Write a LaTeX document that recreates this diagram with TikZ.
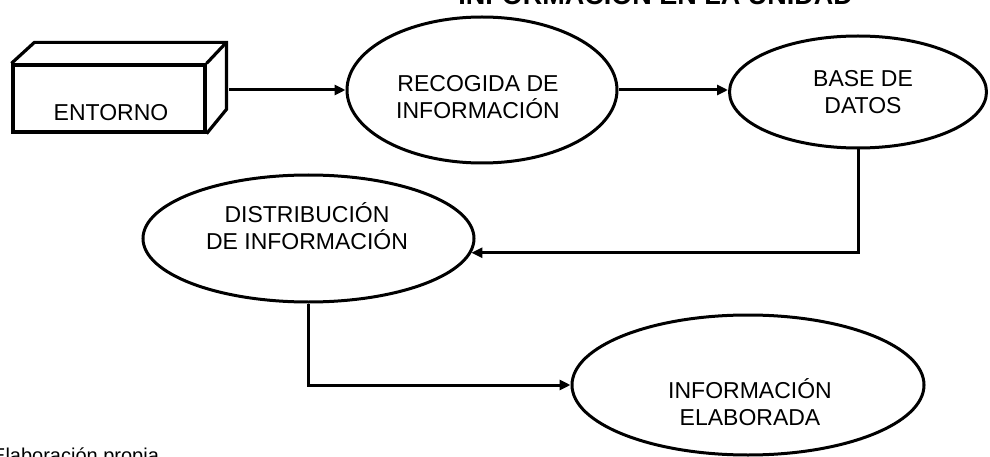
\documentclass[tikz,border=0pt]{standalone}
\usepackage{fontspec}
\setmainfont{Liberation Sans}
\usetikzlibrary{shapes.geometric,arrows.meta,calc}
\begin{document}
\begin{tikzpicture}[x=1pt,y=-1pt,
  proc/.style={draw, ellipse, line width=3pt, inner sep=0pt},
  lbl/.style={align=center, font=\fontsize{23}{27}\selectfont, inner sep=0pt},
  flow/.style={line width=3pt, -{Triangle[length=11pt,width=10pt]}},
  boxface/.style={draw, line width=3.2pt, line join=miter},
]
\useasboundingbox (0,0) rectangle (990,457);

% heading (only its lower edge falls inside the page)
\node[anchor=base east, inner sep=0pt, font=\bfseries\fontsize{27}{30}\selectfont] (title) at (853,5) {INFORMACIÓN EN LA UNIDAD};

% the environment, drawn as a box in perspective
\node[boxface, minimum width=192pt, minimum height=67pt, inner sep=0pt] (entorno) at (109,98.5) {};
\draw[boxface] (entorno.north west) -- ++(23,-21) -- ++(192,0) coordinate (eback) -- ++(0,67) -- (entorno.south east);
\draw[boxface] (entorno.north east) -- (eback);
\node[lbl] (entornotxt) at (111,113) {ENTORNO};

% processes
\node[proc, minimum width=270pt, minimum height=146pt] (rec) at (482,90) {};
\node[lbl] (rectxt) at (478,97) {RECOGIDA DE\\INFORMACIÓN};

\node[proc, minimum width=257pt, minimum height=112pt] (base) at (858,92) {};
\node[lbl] (basetxt) at (863,92) {BASE DE\\DATOS};

\node[proc, minimum width=331pt, minimum height=127pt] (dist) at (308.5,238.5) {};
\node[lbl] (disttxt) at (307,226) {DISTRIBUCIÓN\\DE INFORMACIÓN};

\node[proc, minimum width=352pt, minimum height=140pt] (info) at (748,385) {};
\node[lbl] (infotxt) at (750,402) {INFORMACIÓN\\ELABORADA};

% flows
\draw[flow, shorten <=3pt] (eback |- rec.west) -- (rec.west);
\draw[flow] (rec.east) -- (rec.east -| base.west);
\draw[flow] (base.south) |- (dist.-5);
\draw[flow] (dist.south) |- (info.west);

% source note
\node[anchor=base west, inner sep=0pt, font=\fontsize{20}{24}\selectfont] (src) at (-8,462) {Elaboración propia};
\end{tikzpicture}
\end{document}
